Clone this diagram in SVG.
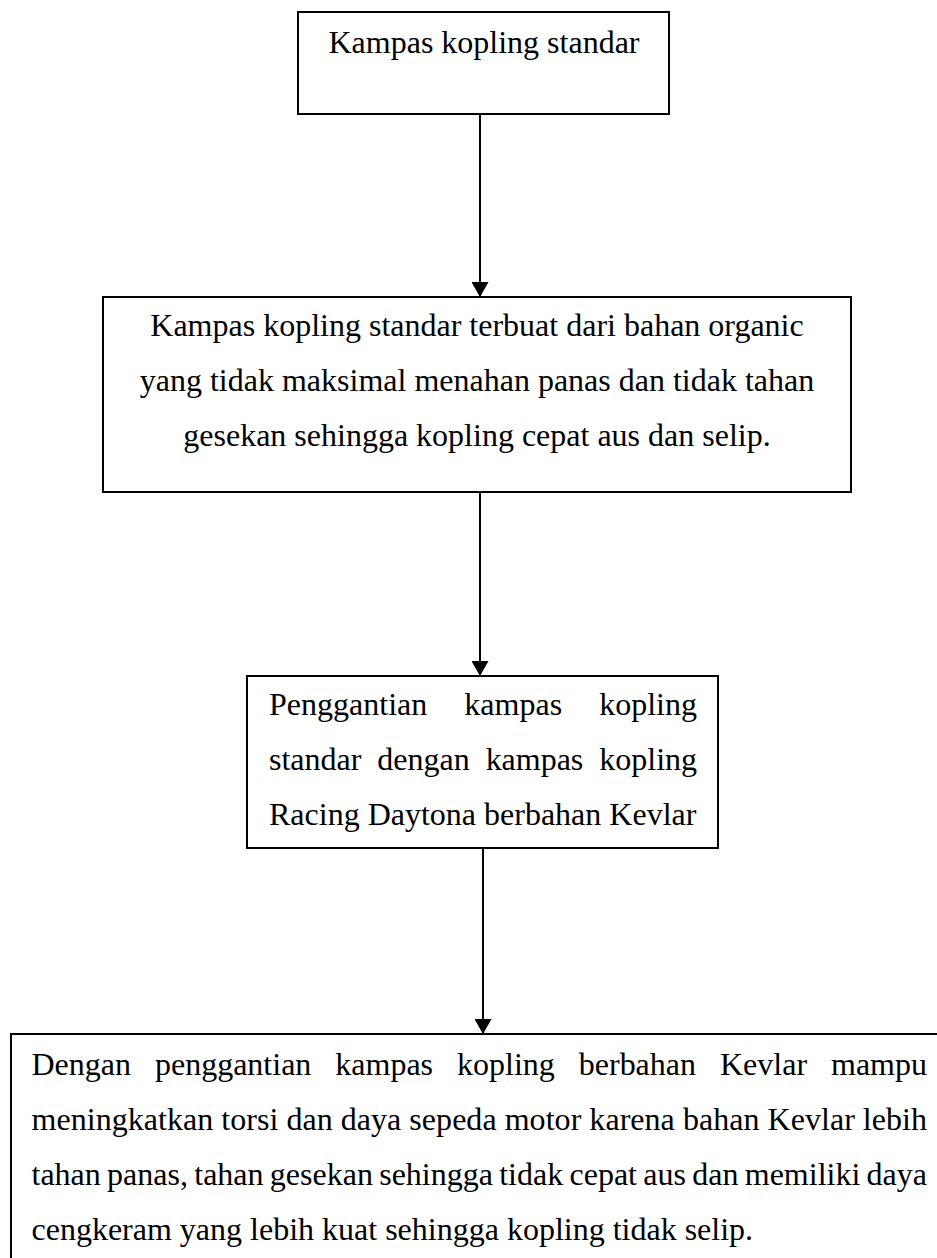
<svg xmlns="http://www.w3.org/2000/svg" width="937" height="1258" viewBox="0 0 937 1258">
<style>
.box{fill:#fff;stroke:#000;stroke-width:2}
.t{font-family:"Liberation Serif","Times New Roman",serif;font-size:32px;fill:#000}
.c{text-anchor:middle}
.conn{stroke:#000;stroke-width:2;fill:none}
</style>
<defs>
<marker id="ah" markerUnits="userSpaceOnUse" markerWidth="17" markerHeight="17" refX="15" refY="8.5" orient="auto">
<path d="M0,0 L15,8.5 L0,17 z" fill="#000"/>
</marker>
</defs>
<rect width="937" height="1258" fill="#fff"/>
<g id="connectors">
<line class="conn" x1="480" y1="114" x2="480" y2="297" marker-end="url(#ah)"/>
<line class="conn" x1="480" y1="492" x2="480" y2="676" marker-end="url(#ah)"/>
<line class="conn" x1="483" y1="848" x2="483" y2="1034" marker-end="url(#ah)"/>
</g>
<g id="node1">
<rect class="box" x="298" y="12" width="371" height="102"/>
<text class="t c" x="484" y="53">Kampas kopling standar</text>
</g>
<g id="node2">
<rect class="box" x="103" y="297" width="748" height="195"/>
<text class="t c" x="477" y="336">Kampas kopling standar terbuat dari bahan organic</text>
<text class="t c" x="477" y="391">yang tidak maksimal menahan panas dan tidak tahan</text>
<text class="t c" x="477" y="446">gesekan sehingga kopling cepat aus dan selip.</text>
</g>
<g id="node3">
<rect class="box" x="247" y="676" width="471" height="172"/>
<text class="t" x="269" y="715" word-spacing="29" textLength="428" lengthAdjust="spacing">Penggantian kampas kopling</text>
<text class="t" x="269" y="770" word-spacing="8" textLength="428" lengthAdjust="spacing">standar dengan kampas kopling</text>
<text class="t" x="269" y="825">Racing Daytona berbahan Kevlar</text>
</g>
<g id="node4">
<rect class="box" x="11" y="1034" width="940" height="240"/>
<text class="t" x="31.5" y="1075" word-spacing="16" textLength="895.5" lengthAdjust="spacing">Dengan penggantian kampas kopling berbahan Kevlar mampu</text>
<text class="t" x="31.5" y="1130" textLength="895.5" lengthAdjust="spacing">meningkatkan torsi dan daya sepeda motor karena bahan Kevlar lebih</text>
<text class="t" x="31.5" y="1185" word-spacing="-1.7" textLength="895.5" lengthAdjust="spacing">tahan panas, tahan gesekan sehingga tidak cepat aus dan memiliki daya</text>
<text class="t" x="31.5" y="1240">cengkeram yang lebih kuat sehingga kopling tidak selip.</text>
</g>
</svg>
